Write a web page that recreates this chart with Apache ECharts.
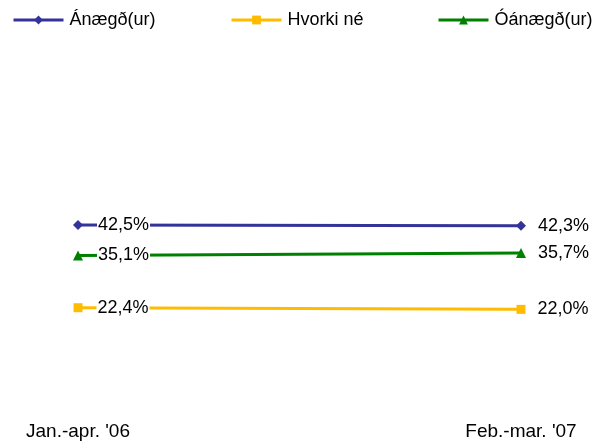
<!DOCTYPE html>
<html><head><meta charset="utf-8">
<script src="https://cdn.jsdelivr.net/npm/echarts@6/dist/echarts.min.js"></script>
<style>html,body{margin:0;padding:0;background:#fff}#c{width:595px;height:442px}</style>
</head><body><div id="c"></div>
<script>
const categories = ["Jan.-apr. '06", "Feb.-mar. '07"];
const seriesNames = ["Ánægð(ur)", "Hvorki né", "Óánægð(ur)"];
const anaegd = [42.5, 42.3];
const hvorki = [22.4, 22.0];
const oanaegd = [35.1, 35.7];

const colors = ['#333399', '#FFBB00', '#008000'];
const symbols = ['diamond', 'rect', 'triangle'];
const sizes = [10, 9, 10];
const dataSets = [anaegd, hvorki, oanaegd];
const font = 'Liberation Sans, Arial, sans-serif';

function fmt(v){ return v.toFixed(1).replace('.', ',') + '%'; }

const series = seriesNames.map((name, i) => ({
  name, type: 'line', data: dataSets[i].map((v, j) => ({
    value: v,
    label: j === 0 ? {backgroundColor: '#fff', padding: [0, 1], distance: 14} : {distance: 12}
  })),
  symbol: symbols[i], symbolSize: sizes[i], symbolKeepAspect: true,
  lineStyle: {color: colors[i], width: 3},
  itemStyle: {color: colors[i]},
  label: {show: true, position: 'right', formatter: p => fmt(p.value),
    color: '#000', fontSize: 18, fontFamily: font},
  animation: false
}));

const legendLefts = [12, 230, 437];
const legend = seriesNames.map((n, i) => ({
  data: [n], left: legendLefts[i], top: 11, padding: 0, itemWidth: 50, itemHeight: 11, itemGap: 0,
  lineStyle: {width: 3},
  textStyle: {fontSize: 18, fontFamily: font, color: '#000', padding: [0, 0, 0, 1]}
}));

const chart = echarts.init(document.getElementById('c'));
chart.setOption({
  animation: false,
  color: colors,
  legend,
  grid: {left: 78, right: 74, top: 194, bottom: 42, containLabel: false},
  xAxis: {type: 'category', data: categories, boundaryGap: false,
    axisLine: {show: false}, axisTick: {show: false}, splitLine: {show: false},
    axisLabel: {color: '#000', fontSize: 19, fontFamily: font, margin: 22}},
  yAxis: {type: 'value', min: 0, max: 50, show: false},
  series
});
</script></body></html>
